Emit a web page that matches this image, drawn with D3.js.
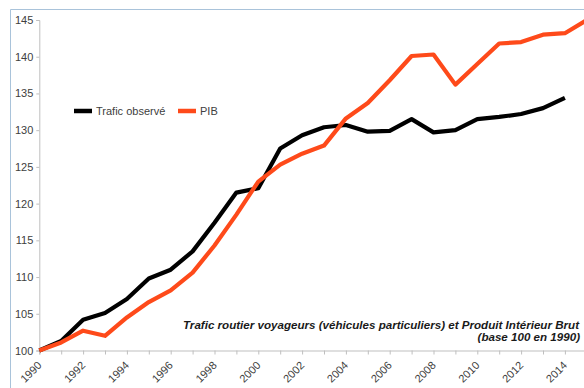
<!DOCTYPE html>
<html>
<head>
<meta charset="utf-8">
<script src="https://cdn.jsdelivr.net/npm/d3@7/dist/d3.min.js"></script>
<style>
  html, body { margin: 0; padding: 0; background: #fff; }
  svg { display: block; }
</style>
</head>
<body>
<svg id="chart" width="584" height="388"></svg>
<script>
// Years on the horizontal axis
const years = [1990, 1991, 1992, 1993, 1994, 1995, 1996, 1997, 1998, 1999,
               2000, 2001, 2002, 2003, 2004, 2005, 2006, 2007, 2008, 2009,
               2010, 2011, 2012, 2013, 2014, 2015];

// Road passenger traffic (private cars), index 1990 = 100 (no 2015 value)
const traficObserve = [100.0, 101.3, 104.2, 105.1, 107.0, 109.8, 111.0, 113.5, 117.4, 121.5,
                       122.1, 127.5, 129.3, 130.4, 130.7, 129.8, 129.9, 131.5, 129.7, 130.0,
                       131.5, 131.8, 132.2, 133.0, 134.4, null];

// GDP, index 1990 = 100
const pib = [100.0, 101.1, 102.7, 102.0, 104.5, 106.6, 108.2, 110.6, 114.3, 118.5,
             123.0, 125.3, 126.8, 127.9, 131.6, 133.7, 136.8, 140.1, 140.3, 136.2,
             139.0, 141.8, 142.0, 143.0, 143.2, 145.0];

const yTicks = [100, 105, 110, 115, 120, 125, 130, 135, 140, 145];
const xLabelYears = [1990, 1992, 1994, 1996, 1998, 2000, 2002, 2004, 2006, 2008, 2010, 2012, 2014];

const seriesNames = ["Trafic observé", "PIB"];
const seriesColors = ["#000000", "#fe4a1a"];

const titleLines = ["Trafic routier voyageurs (véhicules particuliers) et Produit Intérieur Brut",
                    "(base 100 en 1990)"];

const svg = d3.select("#chart");
const W = 584, H = 388;

const x = d3.scaleLinear().domain([1990, 2015]).range([39.3, 586.8]);
const y = d3.scaleLinear().domain([100, 145]).range([350.5, 20]);

const font = "'Liberation Sans', Arial, sans-serif";

// Outer frame (left and top edges)
svg.append("line").attr("x1", 10.5).attr("x2", 10.5).attr("y1", 9.5).attr("y2", H)
  .attr("stroke", "#a9c3da").attr("stroke-width", 1);
svg.append("line").attr("x1", 10.5).attr("x2", W).attr("y1", 9.5).attr("y2", 9.5)
  .attr("stroke", "#a9c3da").attr("stroke-width", 1);

// Y axis
const yAxis = d3.axisLeft(y).tickValues(yTicks).tickSize(3).tickPadding(3).tickFormat(d3.format("d"));
const gy = svg.append("g").attr("transform", `translate(${x(1990)},0)`).call(yAxis);
gy.select(".domain").attr("stroke", "#bfbfbf");
gy.selectAll(".tick line").attr("stroke", "#bfbfbf");
gy.selectAll(".tick text").attr("fill", "#404040").style("font-family", font).style("font-size", "11px");

// X axis
const xAxis = d3.axisBottom(x).tickValues(years).tickSize(4).tickFormat("");
const gx = svg.append("g").attr("transform", `translate(0,${y(100)})`).call(xAxis);
gx.select(".domain").attr("stroke", "#bfbfbf");
gx.selectAll(".tick line").attr("stroke", "#bfbfbf");

// Rotated year labels
svg.append("g").selectAll("text").data(xLabelYears).join("text")
  .attr("transform", d => `translate(${x(d) + 3},366) rotate(-45)`)
  .attr("text-anchor", "end")
  .attr("fill", "#404040")
  .style("font-family", font).style("font-size", "11px")
  .text(d => d);

// Series lines
const series = [traficObserve, pib];
const line = d3.line()
  .defined(d => d.v != null)
  .x(d => x(d.year)).y(d => y(d.v));

series.forEach((vals, i) => {
  svg.append("path")
    .datum(years.map((yr, j) => ({ year: yr, v: vals[j] })))
    .attr("d", line)
    .attr("fill", "none")
    .attr("stroke", seriesColors[i])
    .attr("stroke-width", 4.2)
    .attr("stroke-linejoin", "round");
});

// Legend
const legendItems = [{ x: 74, name: seriesNames[0], color: seriesColors[0] },
                     { x: 178, name: seriesNames[1], color: seriesColors[1] }];
const lg = svg.append("g");
legendItems.forEach(it => {
  lg.append("line").attr("x1", it.x).attr("x2", it.x + 18).attr("y1", 111).attr("y2", 111)
    .attr("stroke", it.color).attr("stroke-width", 4.5);
  lg.append("text").attr("x", it.x + 22).attr("y", 115)
    .attr("fill", "#404040")
    .style("font-family", font).style("font-size", "11px")
    .text(it.name);
});

// Title block
svg.append("text").attr("x", 183).attr("y", 328.5)
  .attr("fill", "#1a1a1a")
  .style("font-family", font).style("font-size", "11.6px")
  .style("font-weight", "bold").style("font-style", "italic")
  .text(titleLines[0]);
svg.append("text").attr("x", 580).attr("y", 341).attr("text-anchor", "end")
  .attr("fill", "#1a1a1a")
  .style("font-family", font).style("font-size", "11.6px")
  .style("font-weight", "bold").style("font-style", "italic")
  .text(titleLines[1]);
</script>
</body>
</html>
